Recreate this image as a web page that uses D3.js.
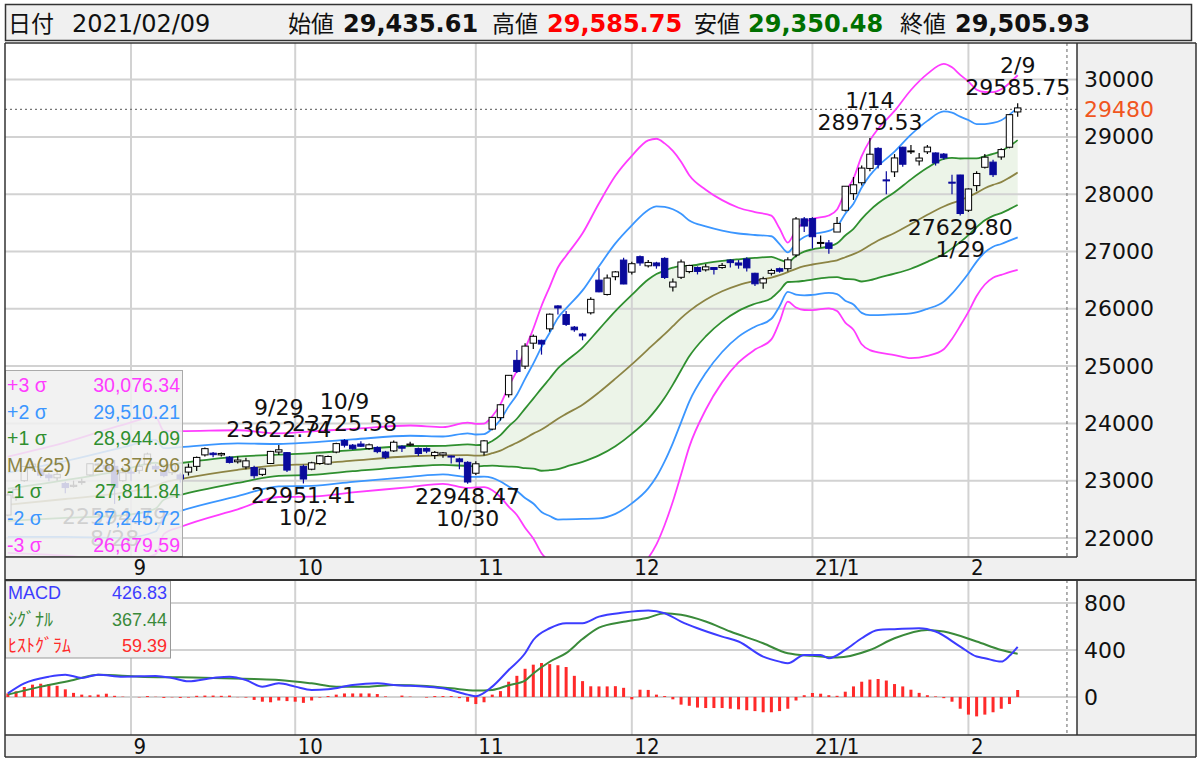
<!DOCTYPE html>
<html><head><meta charset="utf-8">
<script src="https://cdn.jsdelivr.net/npm/d3@7"></script>
<style>body{margin:0;background:#fff}svg{display:block}</style>
</head><body>
<svg id="c" width="1200" height="759"></svg>
<script>
// ---------------- DATA ----------------
const dates = ["2020-08-11","2020-08-12","2020-08-13","2020-08-14","2020-08-17","2020-08-18","2020-08-19","2020-08-20","2020-08-21","2020-08-24","2020-08-25","2020-08-26","2020-08-27","2020-08-28","2020-08-31",
"2020-09-01","2020-09-02","2020-09-03","2020-09-04","2020-09-07","2020-09-08","2020-09-09","2020-09-10","2020-09-11","2020-09-14","2020-09-15","2020-09-16","2020-09-17","2020-09-18","2020-09-23","2020-09-24","2020-09-25","2020-09-28","2020-09-29","2020-09-30",
"2020-10-01","2020-10-02","2020-10-05","2020-10-06","2020-10-07","2020-10-08","2020-10-09","2020-10-12","2020-10-13","2020-10-14","2020-10-15","2020-10-16","2020-10-19","2020-10-20","2020-10-21","2020-10-22","2020-10-23","2020-10-26","2020-10-27","2020-10-28","2020-10-29","2020-10-30",
"2020-11-02","2020-11-04","2020-11-05","2020-11-06","2020-11-09","2020-11-10","2020-11-11","2020-11-12","2020-11-13","2020-11-16","2020-11-17","2020-11-18","2020-11-19","2020-11-20","2020-11-24","2020-11-25","2020-11-26","2020-11-27","2020-11-30",
"2020-12-01","2020-12-02","2020-12-03","2020-12-04","2020-12-07","2020-12-08","2020-12-09","2020-12-10","2020-12-11","2020-12-14","2020-12-15","2020-12-16","2020-12-17","2020-12-18","2020-12-21","2020-12-22","2020-12-23","2020-12-24","2020-12-25","2020-12-28","2020-12-29","2020-12-30",
"2021-01-04","2021-01-05","2021-01-06","2021-01-07","2021-01-08","2021-01-12","2021-01-13","2021-01-14","2021-01-15","2021-01-18","2021-01-19","2021-01-20","2021-01-21","2021-01-22","2021-01-25","2021-01-26","2021-01-27","2021-01-28","2021-01-29",
"2021-02-01","2021-02-02","2021-02-03","2021-02-04","2021-02-05","2021-02-08","2021-02-09"];

const open = [22400,22700,23000,23250,23200,23100,23050,22950,22900,22980,23100,23280,23270,23250,23000,
23150,23180,23290,23250,23180,23140,23100,23150,23250,23450,23480,23450,23410,23330,23240,23230,23110,23300,23500,23490,
null,23250,23200,23300,23290,23500,23700,23620,23640,23560,23580,23500,23520,23600,23620,23560,23560,23440,23450,23430,23380,23320,
23130,23500,23900,24100,24500,25100,25000,25400,25450,25650,26050,25900,25680,25560,25930,26500,26250,26560,26850,
26640,26910,26750,26800,26880,26380,26550,26650,26720,26680,26720,26720,26850,26800,26870,26620,26450,26620,26700,26700,26940,27570,
27575,27150,27150,27340,27720,28010,28200,28450,28800,28250,28390,28820,28740,28580,28740,28720,28700,28210,28335,
27720,28150,28470,28560,28650,28820,29435.61];
const high = [22800,22900,23250,23338,23220,23140,23160,22980,23000,23040,23300,23300,23300,23360,23250,
23200,23300,23490,23290,23230,23320,23140,23300,23420,23580,23500,23490,23430,23420,23400,23260,23210,23520,23622.74,23500,
null,23280,23330,23450,23440,23660,23725.58,23640,23690,23650,23600,23520,23700,23620,23680,23580,23580,23520,23500,23440,23400,23340,
23340,23710,24110,24330,24840,25280,25400,25550,25460,25920,26060,25960,25700,25580,26200,26706,26600,26660,26890,
26820,26930,26850,26820,26900,26530,26860,26770,26740,26780,26730,26800,26870,26850,26900,26630,26560,26700,26720,26900,27600,27600,
27600,27280,27200,27600,28139,28300,28500,28979.53,28820,28400,28700,28830,28860,28720,28860,28730,28720,28340,28340,
28100,28400,28700,28600,28800,29400,29585.75];
const low = [22380,22650,22980,23170,23050,22990,23000,22780,22880,22930,23080,23200,23150,22594.79,22980,
22990,23120,23270,23150,23060,23100,22970,23090,23170,23420,23410,23420,23300,23300,23200,23040,23080,23290,23450,23150,
null,22951.41,23180,23280,23280,23480,23580,23540,23590,23540,23480,23380,23500,23500,23600,23430,23480,23380,23400,23300,23200,22948.47,
23100,23440,23880,24050,24450,24880,24950,25300,25200,25600,25900,25700,25600,25450,25900,26290,26230,26500,26430,
26600,26750,26720,26700,26520,26300,26520,26620,26600,26650,26600,26700,26720,26700,26650,26400,26350,26580,26630,26650,26900,27340,
27050,27070,26960,27340,27700,27900,28150,28400,28450,28000,28300,28480,28700,28500,28700,28500,28600,28000,27629.80,
27690,28050,28450,28300,28600,28800,29350.48];
const close = [22750,22843,23249,23289,23096,23051,23110,22880,22920,22985,23296,23290,23208,22882,23139,
23138,23247,23465,23205,23089,23274,23032,23235,23406,23559,23454,23475,23319,23360,23346,23087,23204,23511,23539,23185,
null,23029,23312,23433,23422,23647,23619,23558,23601,23626,23507,23410,23671,23567,23639,23474,23516,23494,23485,23418,23331,22977,
23295,23695,24105,24325,24839,24905,25349,25520,25385,25906,26014,25728,25634,25527,26165,26296,26537,26644,26433,
26787,26800,26809,26751,26547,26467,26817,26756,26652,26732,26687,26757,26806,26763,26714,26436,26524,26668,26656,26854,27568,27444,
27258,27158,27055,27490,28139,28164,28456,28698,28519,28242,28633,28523,28756,28631,28822,28546,28635,28197,27663,
28091,28362,28646,28341,28779,29388,29505.93];

// Bollinger bands read at sample dates
const bandDates = ["2020-08-11","2020-08-20","2020-08-31","2020-09-04","2020-09-07","2020-09-09","2020-09-18","2020-09-29","2020-10-05","2020-10-12","2020-10-21","2020-10-27",
"2020-10-30","2020-11-02","2020-11-04","2020-11-05","2020-11-06","2020-11-09","2020-11-10","2020-11-11","2020-11-12","2020-11-13",
"2020-11-16","2020-11-17","2020-11-18","2020-11-20","2020-11-25","2020-11-27","2020-12-01","2020-12-03","2020-12-04","2020-12-07",
"2020-12-08","2020-12-09","2020-12-10","2020-12-14","2020-12-16","2020-12-18","2020-12-22","2020-12-24","2020-12-25","2020-12-28",
"2020-12-29","2020-12-30","2021-01-04","2021-01-06","2021-01-07","2021-01-08","2021-01-12","2021-01-13","2021-01-14","2021-01-15",
"2021-01-19","2021-01-21","2021-01-25","2021-01-27","2021-01-28","2021-01-29","2021-02-01","2021-02-02","2021-02-03","2021-02-04",
"2021-02-05","2021-02-08","2021-02-09"];
const bbP3 = [23420,23670,23975,24113,23868,23865,23880,23825,23860,23905,23963,23936,24015,23991,23997,24124,24335,24647,24921,25298,25652,26049,26383,26721,26926,27318,27842,28321,28669,28940,28968,28887,28757,28568,28330,28078,27896,27764,27688,27626,27400,27156,27373,27509,27568,27629,27732,28040,28275,28664,28939,29141,29453,29819,30100,30275,30214,30083,29966,29824,29784,29783,29831,29939,30076.34];
const bbP2 = [23140,23340,23580,23713,23568,23586,23650,23640,23670,23720,23784,23771,23825,23806,23812,23909,24065,24297,24501,24778,25042,25330,25583,25841,26006,26321,26742,27141,27456,27725,27788,27777,27737,27658,27540,27438,27366,27314,27288,27266,27129,26984,27148,27254,27303,27359,27437,27660,27835,28117,28329,28491,28743,29039,29280,29445,29424,29353,29296,29224,29224,29243,29291,29389,29510.21];
const bbP1 = [22860,23010,23185,23313,23268,23307,23420,23455,23480,23535,23605,23606,23635,23621,23627,23694,23795,23947,24081,24258,24432,24611,24783,24961,25086,25324,25642,25961,26243,26510,26608,26667,26717,26748,26750,26798,26836,26864,26888,26906,26858,26812,26923,26999,27038,27089,27142,27280,27395,27570,27719,27841,28033,28259,28460,28615,28634,28623,28626,28624,28664,28703,28751,28839,28944.09];
const ma25 = [22580,22680,22790,22913,22968,23028,23190,23270,23290,23350,23426,23441,23445,23436,23442,23479,23525,23597,23661,23738,23822,23892,23983,24081,24166,24327,24542,24781,25030,25295,25428,25557,25697,25838,25960,26158,26306,26414,26488,26546,26587,26640,26698,26744,26773,26819,26847,26900,26955,27023,27109,27191,27323,27479,27640,27785,27844,27893,27956,28024,28104,28163,28211,28289,28377.96];
const bbM1 = [22300,22350,22395,22513,22668,22749,22960,23085,23100,23165,23247,23276,23255,23251,23257,23264,23255,23247,23241,23218,23212,23173,23183,23201,23246,23330,23442,23601,23817,24080,24248,24447,24677,24928,25170,25518,25776,25964,26088,26186,26316,26468,26473,26489,26508,26549,26552,26520,26515,26476,26499,26541,26613,26699,26820,26955,27054,27163,27286,27424,27544,27623,27671,27739,27811.84];
const bbM2 = [22020,22020,22000,22113,22368,22470,22730,22900,22910,22980,23068,23111,23065,23066,23072,23049,22985,22897,22821,22698,22602,22454,22383,22321,22326,22333,22342,22421,22604,22865,23068,23337,23657,24018,24380,24878,25246,25514,25688,25826,26045,26296,26248,26234,26243,26279,26257,26140,26075,25929,25889,25891,25903,25919,26000,26125,26264,26433,26616,26824,26984,27083,27131,27189,27245.72];
const bbM3 = [21740,21690,21605,21713,22068,22191,22500,22715,22720,22795,22889,22946,22875,22881,22887,22834,22715,22547,22401,22178,21992,21735,21583,21441,21406,21336,21242,21241,21391,21650,21888,22227,22637,23108,23590,24238,24716,25064,25288,25466,25774,26124,26023,25979,25978,26009,25962,25760,25635,25382,25279,25241,25193,25139,25180,25295,25474,25703,25946,26224,26424,26543,26591,26639,26679.59];

// MACD
const macdDates = ["2020-08-11","2020-08-13","2020-08-18","2020-08-20","2020-08-24","2020-08-26","2020-08-31","2020-09-04","2020-09-08","2020-09-10",
"2020-09-15","2020-09-17","2020-09-23","2020-09-25","2020-09-29","2020-10-01","2020-10-05","2020-10-07","2020-10-12","2020-10-15",
"2020-10-19","2020-10-23","2020-10-27","2020-10-30","2020-11-02","2020-11-05","2020-11-09","2020-11-11","2020-11-12","2020-11-16",
"2020-11-18","2020-11-20","2020-11-25","2020-11-30","2020-12-03","2020-12-07","2020-12-09","2020-12-11","2020-12-16","2020-12-18",
"2020-12-23","2020-12-25","2020-12-28","2020-12-30","2021-01-05","2021-01-06","2021-01-08","2021-01-13","2021-01-15","2021-01-19",
"2021-01-22","2021-01-26","2021-01-29","2021-02-02","2021-02-03","2021-02-05","2021-02-08","2021-02-09"];
const macdVals = [31,116,173,190,162,190,173,179,162,133,162,173,145,88,116,88,60,65,102,116,102,88,74,20,6,88,230,372,485,585,628,628,684,718,735,713,642,585,514,472,344,301,287,358,358,330,400,500,571,577,585,557,429,344,330,301,350,426.83];
const signalDates = ["2020-08-11","2020-08-17","2020-08-21","2020-08-26","2020-09-02","2020-09-09","2020-09-15","2020-09-24","2020-09-29","2020-10-05",
"2020-10-08","2020-10-14","2020-10-19","2020-10-23","2020-10-28","2020-11-02","2020-11-05","2020-11-09","2020-11-11","2020-11-12",
"2020-11-16","2020-11-18","2020-11-20","2020-11-25","2020-11-30","2020-12-03","2020-12-07","2020-12-09","2020-12-14","2020-12-17",
"2020-12-23","2020-12-28","2021-01-04","2021-01-07","2021-01-14","2021-01-19","2021-01-25","2021-01-27","2021-02-02","2021-02-05","2021-02-09"];
const signalVals = [20,88,145,190,173,167,162,153,145,116,88,88,102,94,74,55,60,100,140,200,300,373,493,590,640,675,713,699,642,557,457,372,350,336,400,500,571,557,472,400,367.44];
const histVals = [30,48,85,105,113,110,95,65,35,20,14,20,28,10,3,
0,-3,8,2,-8,-3,-8,-5,10,12,12,10,12,-2,-5,-25,-40,-45,-30,-35,
-40,-50,-30,-5,8,20,30,30,30,30,25,5,0,12,3,0,-5,8,8,8,-10,-40,
-60,-45,20,50,130,180,240,275,289,280,270,255,180,135,91,90,90,92,78,
-20,62,60,20,8,-20,-65,-75,-90,-94,-94,-94,-100,-105,-113,-120,-130,-130,-120,-100,-30,15,
34,28,15,10,45,90,130,148,153,140,110,90,62,35,15,5,-10,-40,-100,
-150,-165,-150,-130,-100,-60,59.39];

const monthDates = ["2020-09-01","2020-10-01","2020-11-02","2020-12-01","2021-01-04","2021-02-01"];
const monthLabels = ["9","10","11","12","21/1","2"];
const priceTicks = [22000,23000,24000,25000,26000,27000,28000,29000,30000];
const macdTicks = [0,400,800];
const markPrice = 29480;
const annots = [["2020-08-28","L"],["2020-09-29","H"],["2020-10-09","H"],["2020-10-02","L"],["2020-10-30","L"],["2021-01-14","H"],["2021-01-29","L"],["2021-02-09","H"]];

// ---------------- DRAW ----------------
const svg = d3.select("#c");
const idx = new Map(dates.map((d,i)=>[d,i]));
const x = d3.scaleLinear().domain([0,130]).range([7.85,1075.15]);
const xd = d => x(idx.get(d));
const yP = d3.scaleLinear().domain([21668,30639]).range([557,43]);
const yM = d3.scaleLinear().domain([-315,987]).range([734,581]);
const last = dates.length-1;

const PINK="#ff3cff", BLUE="#3b96ff", GREEN="#2f8f2f", OLIVE="#8c8444";
const MACDC="#3c3cff", SIGC="#3a8a3a", HISTC="#ff2a2a", NAVY="#0a0a9c";
const FONT="'DejaVu Sans', Verdana, sans-serif";
const LFONT="'Liberation Sans', Arial, sans-serif";
const JFONT="'Noto Sans CJK JP', sans-serif";
const NFONT="'Liberation Sans Narrow','DejaVu Sans Condensed', sans-serif";

svg.append("rect").attr("width",1200).attr("height",759).attr("fill","#fff");
svg.append("rect").attr("x",5.5).attr("y",4.5).attr("width",1186).attr("height",36).attr("fill","#f0f0f0").attr("stroke","#333").attr("stroke-width",1.5);
svg.append("rect").attr("x",5).attr("y",43).attr("width",1072).attr("height",514).attr("fill","#fff");
svg.append("rect").attr("x",1077).attr("y",43).attr("width",119).attr("height",514).attr("fill","#f0f0f0");
svg.append("rect").attr("x",5).attr("y",557).attr("width",1191).attr("height",23).attr("fill","#f0f0f0");
svg.append("rect").attr("x",5).attr("y",580).attr("width",1072).attr("height",155).attr("fill","#fff");
svg.append("rect").attr("x",1077).attr("y",580).attr("width",119).attr("height",155).attr("fill","#f0f0f0");
svg.append("rect").attr("x",5).attr("y",735).attr("width",1191).attr("height",22).attr("fill","#f0f0f0");

const defs = svg.append("defs");
defs.append("clipPath").attr("id","cm").append("rect").attr("x",5).attr("y",43).attr("width",1072).attr("height",514);
defs.append("clipPath").attr("id","cd").append("rect").attr("x",5).attr("y",580).attr("width",1072).attr("height",155);

const gMain = svg.append("g").attr("clip-path","url(#cm)");
const gMacd = svg.append("g").attr("clip-path","url(#cd)");

const bandIdx = d3.range(bandDates.length);
gMain.append("path").datum(bandIdx)
  .attr("d", d3.area().x(k=>xd(bandDates[k])).y0(k=>yP(bbM1[k])).y1(k=>yP(bbP1[k])).curve(d3.curveMonotoneX))
  .attr("fill","#eaf3e6").attr("opacity",0.9);

gMain.selectAll(".hg").data(priceTicks).join("line").attr("x1",5).attr("x2",1077)
  .attr("y1",d=>yP(d)).attr("y2",d=>yP(d)).attr("stroke","#d2d2d2").attr("stroke-width",2);
gMain.selectAll(".vg").data(monthDates).join("line").attr("x1",xd).attr("x2",xd)
  .attr("y1",43).attr("y2",557).attr("stroke","#d2d2d2").attr("stroke-width",2);
gMacd.selectAll(".hg").data(macdTicks).join("line").attr("x1",5).attr("x2",1077)
  .attr("y1",d=>yM(d)).attr("y2",d=>yM(d)).attr("stroke","#d2d2d2").attr("stroke-width",2);
gMacd.selectAll(".vg").data(monthDates).join("line").attr("x1",xd).attr("x2",xd)
  .attr("y1",580).attr("y2",735).attr("stroke","#d2d2d2").attr("stroke-width",2);

gMain.append("line").attr("x1",5).attr("x2",1077).attr("y1",yP(markPrice)).attr("y2",yP(markPrice))
  .attr("stroke","#777").attr("stroke-width",1.3).attr("stroke-dasharray","2,3");
[[43,557],[580,735]].forEach(([a,b])=>svg.append("line").attr("x1",x(129)).attr("x2",x(129)).attr("y1",a).attr("y2",b)
  .attr("stroke","#888").attr("stroke-width",1.3).attr("stroke-dasharray","3,3"));

const bandLine = arr => d3.line().x(k=>xd(bandDates[k])).y(k=>yP(arr[k])).curve(d3.curveMonotoneX)(bandIdx);
[[bbP3,PINK],[bbM3,PINK],[bbP2,BLUE],[bbM2,BLUE],[bbP1,GREEN],[bbM1,GREEN],[ma25,OLIVE]].forEach(([arr,c])=>{
  gMain.append("path").attr("d",bandLine(arr)).attr("fill","none").attr("stroke",c).attr("stroke-width",1.8);
});

const cd = dates.map((d,i)=>({i,o:open[i],h:high[i],l:low[i],c:close[i]})).filter(d=>d.o!=null);
const cg = gMain.append("g");
cg.selectAll(".wk").data(cd).join("line").attr("x1",d=>x(d.i)).attr("x2",d=>x(d.i))
  .attr("y1",d=>yP(d.h)).attr("y2",d=>yP(d.l)).attr("stroke",d=>d.c>=d.o?"#000":NAVY).attr("stroke-width",1.2);
cg.selectAll(".bd").data(cd).join("rect").attr("x",d=>x(d.i)-3.2).attr("width",6.4)
  .attr("y",d=>yP(Math.max(d.o,d.c))).attr("height",d=>Math.max(1,Math.abs(yP(d.o)-yP(d.c))))
  .attr("fill",d=>d.c>=d.o?"#fff":NAVY).attr("stroke",d=>d.c>=d.o?"#000":NAVY).attr("stroke-width",1);

const f2 = d3.format(".2f");
annots.forEach(([d,t])=>{
  const i=idx.get(d), v = t==="H"?high[i]:low[i];
  const md = (+d.slice(5,7))+"/"+(+d.slice(8,10));
  const yy = yP(v);
  const lines = t==="H" ? [[md,yy-30],[f2(v),yy-8]] : [[f2(v),yy+20],[md,yy+42]];
  lines.forEach(([s,yb])=>svg.append("text").attr("x",x(i)).attr("y",yb).attr("text-anchor","middle")
    .attr("font-family",FONT).attr("font-size",22).attr("fill","#111").text(s));
});

gMacd.selectAll(".hb").data(histVals.map((v,i)=>({i,v}))).join("rect")
  .attr("x",d=>x(d.i)-1.5).attr("width",3)
  .attr("y",d=>Math.min(yM(0),yM(d.v))).attr("height",d=>Math.abs(yM(d.v)-yM(0)))
  .attr("fill",HISTC);
const mIdx = d3.range(macdDates.length), sIdx = d3.range(signalDates.length);
gMacd.append("path").attr("d",d3.line().x(k=>xd(signalDates[k])).y(k=>yM(signalVals[k])).curve(d3.curveMonotoneX)(sIdx))
  .attr("fill","none").attr("stroke",SIGC).attr("stroke-width",2);
gMacd.append("path").attr("d",d3.line().x(k=>xd(macdDates[k])).y(k=>yM(macdVals[k])).curve(d3.curveMonotoneX)(mIdx))
  .attr("fill","none").attr("stroke",MACDC).attr("stroke-width",2);

// legend (BB)
svg.append("rect").attr("x",5.5).attr("y",370.5).attr("width",177).attr("height",186).attr("fill","#f0f0f0").attr("fill-opacity",0.86).attr("stroke","#aaa");
const fc = d3.format(",.2f");
const legRows = [["+3 σ",bbP3,PINK],["+2 σ",bbP2,BLUE],["+1 σ",bbP1,GREEN],["MA(25)",ma25,OLIVE],["-1 σ",bbM1,GREEN],["-2 σ",bbM2,BLUE],["-3 σ",bbM3,PINK]];
legRows.forEach(([lab,arr,c],k)=>{
  const yb = 392 + k*26.6;
  svg.append("text").attr("x",7).attr("y",yb).attr("font-family",LFONT).attr("font-size",19.5).attr("fill",c).text(lab);
  svg.append("text").attr("x",180).attr("y",yb).attr("text-anchor","end").attr("font-family",LFONT).attr("font-size",19.5).attr("fill",c).text(fc(arr[arr.length-1]));
});
// legend (MACD)
svg.append("rect").attr("x",5.5).attr("y",581).attr("width",165).attr("height",77).attr("fill","#f0f0f0").attr("stroke","#999");
const mRows = [["MACD",macdVals,MACDC,LFONT],["ｼｸﾞﾅﾙ",signalVals,SIGC,JFONT],["ﾋｽﾄｸﾞﾗﾑ",histVals,HISTC,JFONT]];
mRows.forEach(([lab,arr,c,ff],k)=>{
  const yb = 599 + k*26.5;
  svg.append("text").attr("x",8).attr("y",yb).attr("font-family",ff).attr("font-size",18).attr("fill",c).text(lab);
  svg.append("text").attr("x",167).attr("y",yb).attr("text-anchor","end").attr("font-family",LFONT).attr("font-size",18).attr("fill",c).text(f2(arr[arr.length-1]));
});

// axes
const pa = svg.append("g").attr("transform","translate(1084,0)")
  .call(d3.axisRight(yP).tickValues(priceTicks).tickSize(0).tickPadding(0).tickFormat(d3.format("d")));
pa.select(".domain").remove();
pa.selectAll("text").attr("font-family",FONT).attr("font-size",22).attr("fill","#111");
svg.append("text").attr("x",1084).attr("y",yP(markPrice)).attr("dy","0.36em").attr("font-family",FONT).attr("font-size",22).attr("fill","#f0561e").text(markPrice);
const ma = svg.append("g").attr("transform","translate(1084,0)")
  .call(d3.axisRight(yM).tickValues(macdTicks).tickSize(0).tickPadding(0).tickFormat(d3.format("d")));
ma.select(".domain").remove();
ma.selectAll("text").attr("font-family",FONT).attr("font-size",22).attr("fill","#111");

[557,736].forEach(y0=>{
  const ax = svg.append("g").attr("transform",`translate(0,${y0})`)
    .call(d3.axisBottom(x).tickValues(monthDates.map(d=>idx.get(d))).tickSize(0).tickFormat((d,i)=>monthLabels[i]));
  ax.select(".domain").remove();
  ax.selectAll("text").attr("text-anchor","start").attr("dx",2).attr("y",17.5).attr("dy",0)
    .attr("font-family",NFONT).attr("font-size",22).attr("fill","#111");
});

const bd = (x1,y1,x2,y2,w)=>svg.append("line").attr("x1",x1).attr("y1",y1).attr("x2",x2).attr("y2",y2).attr("stroke","#333").attr("stroke-width",w||1.5);
bd(5,43,1196,43); bd(5,557,1077,557); bd(5,580,1196,580,2); bd(5,735,1196,735);
bd(5,43,5,757); bd(1196,43,1196,757); bd(1077,43,1077,557); bd(1077,580,1077,735); bd(5,757,1196,757);

const hd = dates[last].replace(/-/g,"/");
const hy = 32;
svg.append("text").attr("x",8).attr("y",hy).attr("font-family",JFONT).attr("font-size",23).attr("fill","#111").text("日付");
svg.append("text").attr("x",72).attr("y",hy).attr("font-family",FONT).attr("font-size",24).attr("fill","#111").text(hd);
const hv = [["始値",open[last],"#111",288,343],["高値",high[last],"#ff0000",492,547],["安値",low[last],"#007000",694,748],["終値",close[last],"#111",900,955]];
hv.forEach(([lab,v,c,lx,vx])=>{
  svg.append("text").attr("x",lx).attr("y",hy).attr("font-family",JFONT).attr("font-size",23).attr("fill","#111").text(lab);
  svg.append("text").attr("x",vx).attr("y",hy).attr("font-family",FONT).attr("font-weight","bold").attr("font-size",24).attr("fill",c).text(fc(v));
});
</script>
</body></html>
